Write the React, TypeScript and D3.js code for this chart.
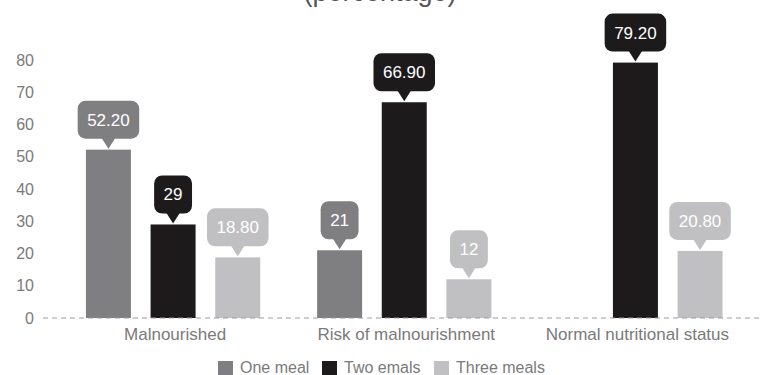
import React from "react";
import * as d3 from "d3";

const categories = ["Malnourished", "Risk of malnourishment", "Normal nutritional status"];
const seriesNames = ["One meal", "Two emals", "Three meals"];
const oneMeal: (number | null)[] = [52.2, 21, null];
const twoMeals: (number | null)[] = [29, 66.9, 79.2];
const threeMeals: (number | null)[] = [18.8, 12, 20.8];
const valueLabels: (string | null)[][] = [
  ["52.20", "21", null],
  ["29", "66.90", "79.20"],
  ["18.80", "12", "20.80"],
];
const yTicks = [0, 10, 20, 30, 40, 50, 60, 70, 80];
const colors = ["#7f7f81", "#1c1a1b", "#c0c0c2"];

const W = 761;
const H = 375;
const FONT = "'Liberation Sans', Arial, sans-serif";

function textWidth(s: string, size: number) {
  let w = 0;
  for (const c of s) w += c === "." ? 0.278 : 0.556;
  return w * size;
}

export default function App() {
  const series = [oneMeal, twoMeals, threeMeals];
  const y = d3.scaleLinear().domain([0, 80]).range([318, 60]);
  const x0 = d3.scaleBand<string>().domain(categories).range([57.5, 751]).paddingInner(0).paddingOuter(0);
  const x1 = d3
    .scaleBand<string>()
    .domain(seriesNames)
    .range([0, x0.bandwidth()])
    .paddingInner(0.304)
    .paddingOuter(0.44);

  return (
    <svg width={W} height={H} style={{ position: "absolute", left: 0, top: 0, background: "#fff" }}>
      <text x={380} y={1} textAnchor="middle" fontFamily={FONT} fontSize={27} fill="#555">
        (percentage)
      </text>
      {yTicks.map((t) => (
        <text key={t} x={34} y={y(t)} dy="0.35em" textAnchor="end" fontFamily={FONT} fontSize={16} fill="#7a7a7a">
          {t}
        </text>
      ))}
      {categories.map((c, ci) => (
        <g key={c} transform={`translate(${x0(c)},0)`}>
          {series.map((s, si) => {
            const v = s[ci];
            if (v == null) return null;
            const bx = x1(seriesNames[si])!;
            return (
              <rect key={si} x={bx} y={y(v)} width={x1.bandwidth()} height={y(0) - y(v)} fill={colors[si]} />
            );
          })}
        </g>
      ))}
      <line x1={43} x2={761} y1={y(0)} y2={y(0)} stroke="#9a9a9a" strokeWidth={1} strokeDasharray="5,4" />
      {categories.map((c, ci) => (
        <g key={c + "lbl"} transform={`translate(${x0(c)},0)`}>
          {series.map((s, si) => {
            const v = s[ci];
            const lbl = valueLabels[si][ci];
            if (v == null || lbl == null) return null;
            const cx = x1(seriesNames[si])! + x1.bandwidth() / 2;
            const top = y(v);
            const bw = textWidth(lbl, 17) + 19;
            const bh = 38;
            const by = top - 49;
            const tri = `M${cx - 7},${by + bh - 1} L${cx + 7},${by + bh - 1} L${cx},${top - 1} Z`;
            return (
              <g key={si}>
                <rect x={cx - bw / 2} y={by} width={bw} height={bh} rx={8} ry={8} fill={colors[si]} />
                <path d={tri} fill={colors[si]} />
                <text x={cx} y={by + bh / 2} dy="0.35em" textAnchor="middle" fontFamily={FONT} fontSize={17} fill="#fff">
                  {lbl}
                </text>
              </g>
            );
          })}
        </g>
      ))}
      {categories.map((c) => (
        <text key={c + "ax"} x={x0(c)! + x0.bandwidth() / 2 + 2} y={340} textAnchor="middle" fontFamily={FONT} fontSize={17} fill="#7a7a7a">
          {c}
        </text>
      ))}
      {seriesNames.map((n, i) => {
        const xs = [218, 322, 434][i];
        return (
          <g key={n}>
            <rect x={xs} y={361} width={15} height={14} fill={colors[i]} />
            <text x={xs + 22} y={373} fontFamily={FONT} fontSize={16} fill="#7a7a7a">
              {n}
            </text>
          </g>
        );
      })}
    </svg>
  );
}
